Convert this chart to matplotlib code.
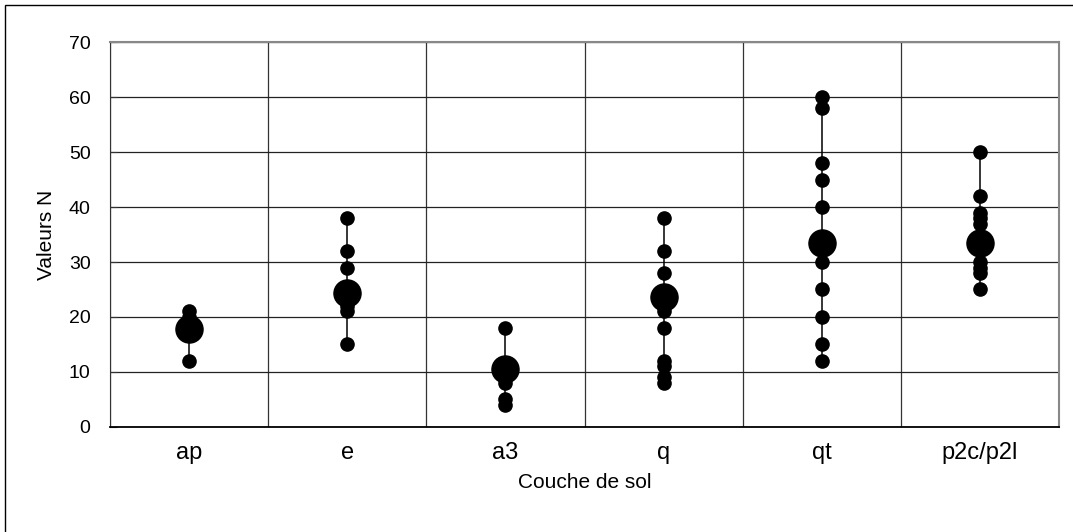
import numpy as np
import matplotlib
matplotlib.use("Agg")
import matplotlib.pyplot as plt
from matplotlib.patches import Rectangle

plt.rcParams['font.family'] = ['Liberation Sans', 'DejaVu Sans']

couches = ["ap", "e", "a3", "q", "qt", "p2c/p2l"]

# valeurs N par couche
val_ap = [21, 20, 12]
val_e = [38, 32, 29, 22, 21, 15]
val_a3 = [18, 11, 10, 8, 5, 4]
val_q = [38, 32, 28, 21, 18, 12, 11, 9, 8]
val_qt = [60, 58, 48, 45, 40, 30, 25, 20, 15, 12]
val_p2 = [50, 42, 39, 38, 37, 30, 29, 28, 25]

# moyennes (gros points)
moyennes = [17.8, 24.3, 10.6, 23.7, 33.4, 33.4]

valeurs = [val_ap, val_e, val_a3, val_q, val_qt, val_p2]

fig = plt.figure(figsize=(10.73, 5.32), dpi=100)
ax = fig.add_axes([0.1025, 0.1974, 0.8845, 0.7236])

# cadre de la zone graphique
fig.patches.append(Rectangle((5 / 1073, -0.1), 1.2, 1 - 5 / 532 + 0.1,
                             transform=fig.transFigure, fill=False,
                             edgecolor='black', linewidth=1.0))

for i, v in enumerate(valeurs):
    x = i + 1
    ax.plot([x, x], [min(v), max(v)], color='black', linewidth=1.1, zorder=3)
    ax.plot([x] * len(v), v, 'o', color='black', markersize=9.5, zorder=4)
    ax.plot(x, moyennes[i], 'o', color='black', markersize=19.5, zorder=5)

ax.set_xlim(0.5, 6.5)
ax.set_ylim(0, 70)
ax.set_yticks(range(0, 71, 10))
ax.set_xticks(range(1, 7))
ax.set_xticklabels(couches, fontsize=17)
ax.set_xticks(np.arange(0.5, 6.6, 1), minor=True)
ax.tick_params(axis='y', labelsize=14, direction='in', length=5, pad=14, color='#333333')
ax.tick_params(axis='x', which='major', length=0, pad=11)
ax.tick_params(axis='x', which='minor', length=0)

ax.grid(axis='y', which='major', color='#222222', linewidth=0.9)
ax.grid(axis='x', which='minor', color='#333333', linewidth=0.9)
ax.set_axisbelow(True)

ax.spines['top'].set_color('#888888')
ax.spines['right'].set_color('#888888')
ax.spines['top'].set_linewidth(1.5)
ax.spines['right'].set_linewidth(1.5)
ax.spines['left'].set_color('#333333')
ax.spines['bottom'].set_color('black')
ax.spines['bottom'].set_linewidth(1.3)

ax.set_xlabel("Couche de sol", fontsize=15, labelpad=6)
ax.set_ylabel("Valeurs N", fontsize=15, labelpad=9)

fig.savefig("out.png", dpi=100)
